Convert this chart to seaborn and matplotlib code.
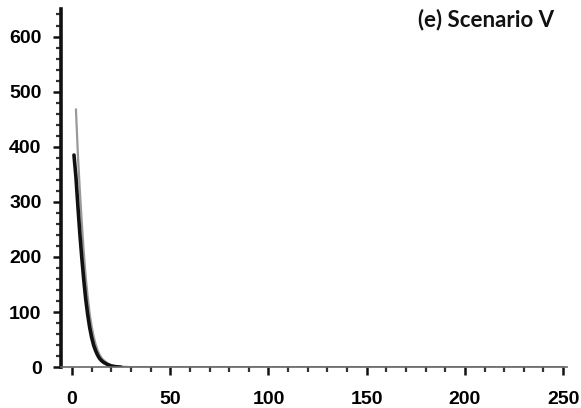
import numpy as np
import pandas as pd
import matplotlib
matplotlib.use("Agg")
import matplotlib.pyplot as plt
from matplotlib.ticker import MultipleLocator
import seaborn as sns

# Series A (dark): decay of the quantity over time
time_a = [1, 2, 3, 4, 5, 6, 7, 8, 9, 10, 11, 12, 13, 14, 15, 16, 18, 20, 22, 25]
value_a = [385, 345, 292, 242, 198, 158, 123, 95, 72, 54, 40, 30, 22, 16, 12, 9, 5, 2, 1, 0]

# Series B (light): same process, slightly higher start and slower decay
time_b = [2, 3, 4, 5, 6, 7, 8, 9, 10, 11, 12, 13, 14, 15, 16, 18, 20, 22, 25, 30, 50, 100, 150, 200, 250]
value_b = [468, 385, 320, 262, 208, 163, 127, 97, 74, 56, 42, 31, 23, 17, 13, 7, 4, 2, 1, 0, 0, 0, 0, 0, 0]

x_ticks = [0, 50, 100, 150, 200, 250]
y_ticks = [0, 100, 200, 300, 400, 500, 600]
panel_title = "(e) Scenario V"

df_a = pd.DataFrame({"time": time_a, "value": value_a})
df_b = pd.DataFrame({"time": time_b, "value": value_b})

sns.set_style("white")
plt.rcParams["font.family"] = ["Liberation Sans", "DejaVu Sans"]

fig = plt.figure(figsize=(5.81, 4.08), dpi=100)
ax = fig.add_axes([0.105, 0.100, 0.871, 0.878])

sns.lineplot(data=df_b, x="time", y="value", ax=ax, color="#9a9a9a", linewidth=1.6)
sns.lineplot(data=df_a, x="time", y="value", ax=ax, color="#111111", linewidth=2.6)

ax.set_xlim(-5.6, 252)
ax.set_ylim(0, 650)
ax.set_xticks(x_ticks)
ax.set_yticks(y_ticks)
ax.xaxis.set_minor_locator(MultipleLocator(10))
ax.yaxis.set_minor_locator(MultipleLocator(20))
ax.set_xlabel("")
ax.set_ylabel("")

for side in ("top", "right"):
    ax.spines[side].set_visible(False)
ax.spines["left"].set_linewidth(2.6)
ax.spines["left"].set_color("#111111")
ax.spines["bottom"].set_linewidth(1.2)
ax.spines["bottom"].set_color("#666666")

ax.tick_params(axis="x", which="both", bottom=True)
ax.tick_params(axis="y", which="both", left=True)
ax.tick_params(axis="both", which="major", direction="out", length=6, width=1.8,
               color="#111111", labelcolor="#000000", labelsize=14)
ax.tick_params(axis="both", which="minor", direction="out", length=3.5, width=1.6,
               color="#333333")
ax.tick_params(axis="x", which="major", pad=11)
ax.tick_params(axis="y", which="major", pad=8)
for lab in ax.get_xticklabels() + ax.get_yticklabels():
    lab.set_fontweight("bold")

ax.text(0.975, 1.0, panel_title, transform=ax.transAxes, ha="right", va="top",
        fontsize=16, family=["Lato", "DejaVu Sans"], fontweight="bold", color="#111111")

fig.savefig("out.png", dpi=100)
